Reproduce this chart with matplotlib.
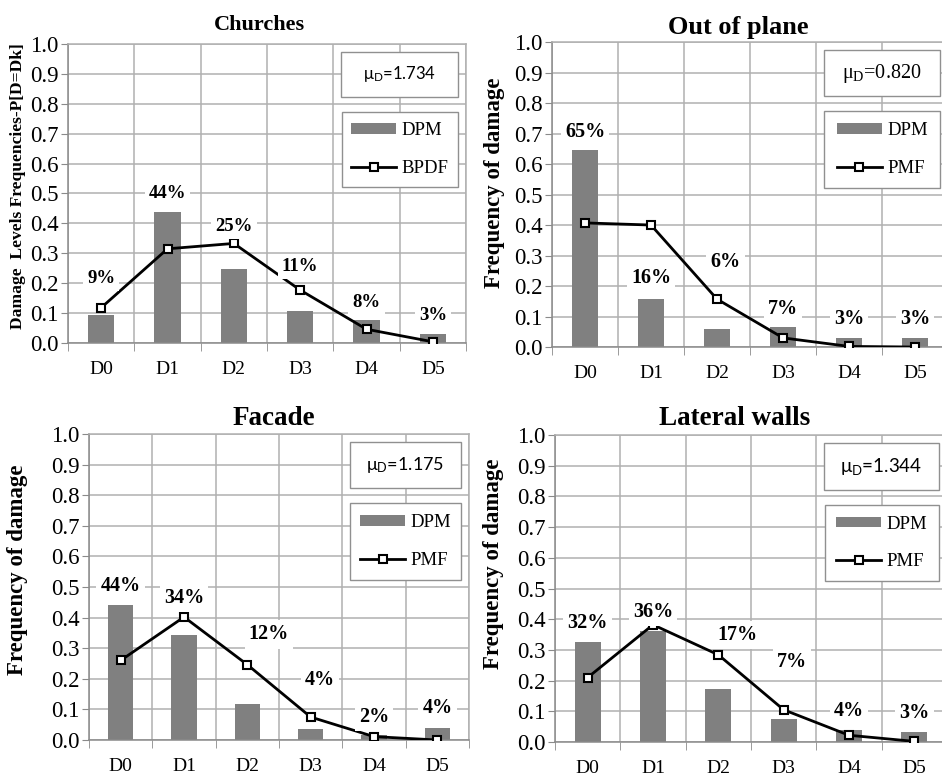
import matplotlib.pyplot as plt
from matplotlib.patches import Rectangle, Patch
from matplotlib.lines import Line2D
from matplotlib.ticker import FormatStrFormatter, MultipleLocator, FixedLocator

# Datos
levels = ['D0', 'D1', 'D2', 'D3', 'D4', 'D5']

titles = ['Churches', 'Out of plane', 'Facade', 'Lateral walls']
ylabels = ['Damage  Levels Frequencies-P[D=Dk]', 'Frequency of damage',
           'Frequency of damage', 'Frequency of damage']
line_names = ['BPDF', 'PMF', 'PMF', 'PMF']
mu_values = ['1.734', '0.820', '1.175', '1.344']

churches_dpm = [0.093, 0.437, 0.248, 0.108, 0.076, 0.031]
churches_bpdf = [0.118, 0.315, 0.333, 0.177, 0.046, 0.004]
churches_pct = ['9%', '44%', '25%', '11%', '8%', '3%']

outplane_dpm = [0.645, 0.159, 0.060, 0.066, 0.030, 0.030]
outplane_pmf = [0.407, 0.400, 0.157, 0.030, 0.002, 0.000]
outplane_pct = ['65%', '16%', '6%', '7%', '3%', '3%']

facade_dpm = [0.441, 0.342, 0.119, 0.035, 0.016, 0.040]
facade_pmf = [0.260, 0.402, 0.246, 0.075, 0.011, 0.000]
facade_pct = ['44%', '34%', '12%', '4%', '2%', '4%']

lateral_dpm = [0.325, 0.360, 0.172, 0.075, 0.040, 0.031]
lateral_pmf = [0.210, 0.382, 0.284, 0.105, 0.022, 0.002]
lateral_pct = ['32%', '36%', '17%', '7%', '4%', '3%']

dpm_all = [churches_dpm, outplane_dpm, facade_dpm, lateral_dpm]
line_all = [churches_bpdf, outplane_pmf, facade_pmf, lateral_pmf]
pct_all = [churches_pct, outplane_pct, facade_pct, lateral_pct]

# Disposición de cada panel (coordenadas de figura / ejes)
axes_rects = [
    [0.0722, 0.558, 0.4225, 0.3853],
    [0.586, 0.5528, 0.4204, 0.393],
    [0.0945, 0.0464, 0.4034, 0.3943],
    [0.5892, 0.0438, 0.4161, 0.3956],
]
title_pos = [(0.482, 1.047), (0.471, 1.026), (0.487, 1.029), (0.457, 1.033)]
title_size = [16, 19, 19.5, 19.5]
ylabel_pos = [(-0.105, 0.525), (-0.118, 0.538), (-0.160, 0.556), (-0.130, 0.58)]
ylabel_size = [12.6, 16.5, 16.5, 16.5]
pct_size = [13.5, 14.5, 14.5, 14.5]
mu_font = ['Lato', 'Liberation Serif', 'Lato', 'Lato']
mu_size = [12, 14.5, 13, 13.5]
label_y = [
    [0.216, 0.50, 0.389, 0.255, 0.137, 0.093],
    [0.706, 0.225, 0.28, 0.126, 0.093, 0.093],
    [0.504, 0.465, 0.345, 0.196, 0.076, 0.103],
    [0.387, 0.425, 0.349, 0.262, 0.102, 0.094],
]
label_dx = [
    [0, 0, 0, 0, 0, 0],
    [0, 0, 0.13, 0, 0, 0],
    [0, 0, 0.34, 0.15, 0, 0],
    [0, 0, 0.29, 0.13, 0, 0],
]

serif = 'Liberation Serif'
grid_col = '#b0b0b0'
axis_col = '#8a8a8a'
bar_col = '#808080'

fig = plt.figure(figsize=(9.42, 7.76), dpi=100)
x = list(range(len(levels)))

for i in range(4):
    ax = fig.add_axes(axes_rects[i])
    ax.set_xlim(-0.5, 5.5)
    ax.set_ylim(0, 1.0)

    ax.bar(x, dpm_all[i], width=0.4, color=bar_col, zorder=2)
    ax.plot(x, line_all[i], color='black', lw=2, marker='s', ms=6,
            mfc='white', mec='black', mew=1.5, zorder=3)

    for j in x:
        ax.text(j + label_dx[i][j], label_y[i][j], pct_all[i][j],
                ha='center', va='center', fontsize=pct_size[i],
                fontweight='bold', family=serif, zorder=4,
                bbox=dict(facecolor='white', edgecolor='none', pad=3))

    # Ejes estilo Excel
    ax.yaxis.set_major_locator(MultipleLocator(0.1))
    ax.yaxis.set_major_formatter(FormatStrFormatter('%.1f'))
    ax.set_xticks(x)
    ax.set_xticklabels(levels)
    ax.xaxis.set_minor_locator(FixedLocator([k - 0.5 for k in range(7)]))
    ax.set_axisbelow(True)
    ax.yaxis.grid(True, color=grid_col, lw=1.1)
    ax.xaxis.grid(True, which='minor', color=grid_col, lw=1.1)
    ax.tick_params(axis='y', direction='out', length=5, color=axis_col,
                   labelsize=16.5, pad=2)
    ax.tick_params(axis='x', which='major', length=0, labelsize=14, pad=13)
    ax.tick_params(axis='x', which='minor', direction='out', length=6,
                   color=axis_col)
    for lab in ax.get_xticklabels() + ax.get_yticklabels():
        lab.set_family(serif)
    for side in ['left', 'bottom']:
        ax.spines[side].set_color(axis_col)
        ax.spines[side].set_linewidth(1.1)
    for side in ['top', 'right']:
        ax.spines[side].set_color(grid_col)
        ax.spines[side].set_linewidth(1.1)

    ax.text(title_pos[i][0], title_pos[i][1], titles[i], transform=ax.transAxes,
            ha='center', va='baseline', fontsize=title_size[i],
            fontweight='bold', family=serif)
    ax.set_ylabel(ylabels[i], fontsize=ylabel_size[i], fontweight='bold',
                  family=serif)
    ax.yaxis.set_label_coords(ylabel_pos[i][0], ylabel_pos[i][1])

    # Caja del valor medio
    ax.add_patch(Rectangle((0.686, 0.822), 0.294, 0.152, transform=ax.transAxes,
                           facecolor='white', edgecolor='#909090', lw=1,
                           zorder=5, clip_on=False))
    ax.text(0.833, 0.898, r'$\mathregular{\mu_D}$=' + mu_values[i],
            transform=ax.transAxes, ha='center', va='center',
            fontsize=mu_size[i], family=mu_font[i], zorder=6)

    # Leyenda
    ax.add_patch(Rectangle((0.688, 0.523), 0.292, 0.25, transform=ax.transAxes,
                           facecolor='white', edgecolor='#909090', lw=1,
                           zorder=5, clip_on=False))
    handles = [Patch(facecolor=bar_col),
               Line2D([], [], color='black', lw=2, marker='s', ms=6,
                      mfc='white', mec='black', mew=1.5)]
    leg = ax.legend(handles, ['DPM', line_names[i]], loc='center',
                    bbox_to_anchor=(0.688, 0.523, 0.292, 0.25),
                    frameon=False, prop={'family': serif, 'size': 13.5},
                    handlelength=2.4, handleheight=0.5, handletextpad=0.3,
                    labelspacing=1.1, borderaxespad=0)
    leg.set_zorder(7)

fig.savefig('out.png', dpi=100)
